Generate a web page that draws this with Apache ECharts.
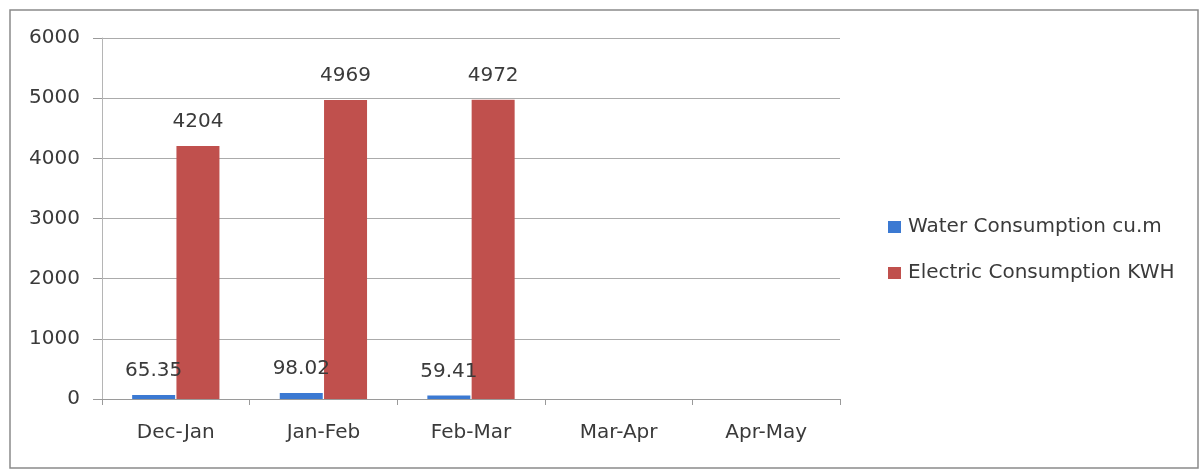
<!DOCTYPE html>
<html>
<head>
<meta charset="utf-8">
<script src="https://cdn.jsdelivr.net/npm/echarts@6/dist/echarts.min.js"></script>
<style>
  html, body { margin: 0; padding: 0; background: #fff; }
  #chart { width: 1200px; height: 470px; }
</style>
</head>
<body>
<div id="chart"></div>
<script>
// periods on the x axis
const periods = ["Dec-Jan", "Jan-Feb", "Feb-Mar", "Mar-Apr", "Apr-May"];
// values
const water = [65.35, 98.02, 59.41, null, null];
const electric = [4204, 4969, 4972, null, null];
const yTicks = { min: 0, max: 6000, interval: 1000 };

const font = "'DejaVu Sans', sans-serif";
const txt = "#3a3a3a";
const chart = echarts.init(document.getElementById("chart"));

chart.setOption({
  animation: false,
  textStyle: { fontFamily: font },
  graphic: [{
    type: "rect",
    shape: { x: 10, y: 10, width: 1188, height: 458 },
    style: { fill: "none", stroke: "#8a8a8a", lineWidth: 1.5 }
  }],
  grid: { left: 102, right: 360, top: 38, bottom: 71 },
  legend: {
    orient: "vertical",
    left: 883,
    top: 212,
    itemWidth: 13,
    itemHeight: 12,
    itemGap: 26,
    icon: "rect",
    textStyle: { fontSize: 20, color: txt, fontFamily: font, padding: [0, 0, 0, 2] },
    data: ["Water Consumption cu.m", "Electric Consumption KWH"]
  },
  xAxis: {
    type: "category",
    data: periods,
    axisLine: { lineStyle: { color: "#9a9a9a" } },
    axisTick: { show: true, length: 6, lineStyle: { color: "#9a9a9a" } },
    axisLabel: { color: txt, fontSize: 20, margin: 24, fontFamily: font }
  },
  yAxis: {
    type: "value",
    min: yTicks.min,
    max: yTicks.max,
    interval: yTicks.interval,
    axisLine: { show: true, lineStyle: { color: "#b5b5b5" } },
    axisTick: { show: true, length: 9, lineStyle: { color: "#9a9a9a" } },
    axisLabel: { color: txt, fontSize: 20, margin: 22, fontFamily: font, formatter: v => String(v) },
    splitLine: { lineStyle: { color: "#ababab" } }
  },
  series: [
    {
      name: "Water Consumption cu.m",
      type: "bar",
      data: water,
      barWidth: 43,
      barGap: "3%",
      itemStyle: { color: "#3b79d2" },
      label: {
        show: true, position: "top", distance: 14,
        fontSize: 20, color: txt, fontFamily: font
      }
    },
    {
      name: "Electric Consumption KWH",
      type: "bar",
      data: electric,
      barWidth: 43,
      itemStyle: { color: "#c0504d" },
      label: {
        show: true, position: "top", distance: 14,
        fontSize: 20, color: txt, fontFamily: font
      }
    }
  ]
});
</script>
</body>
</html>
